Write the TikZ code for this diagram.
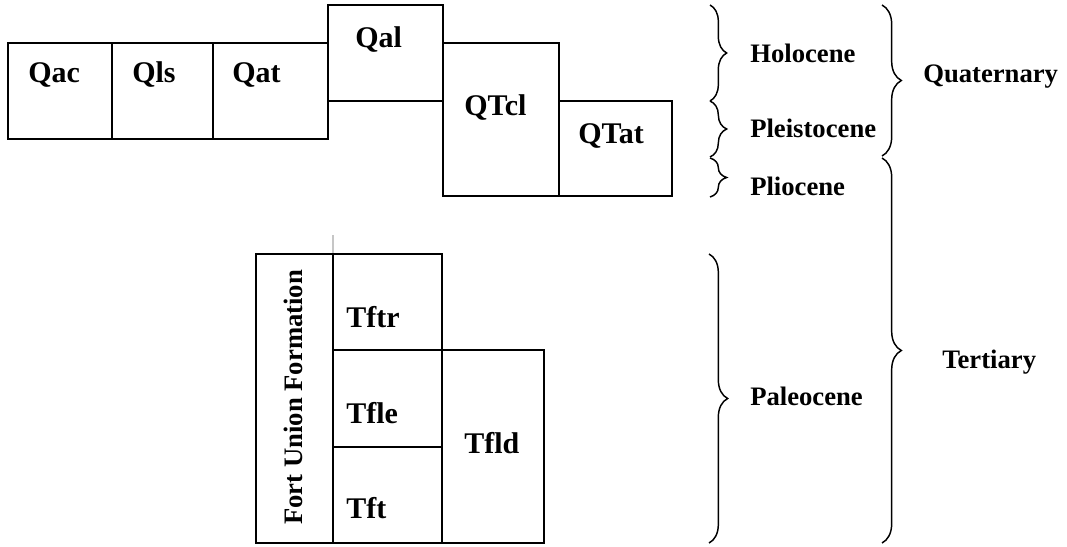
\documentclass[tikz,border=0pt]{standalone}
\usepackage{fontspec}
\setmainfont{Liberation Serif}
\usetikzlibrary{decorations.pathreplacing}
\begin{document}
\begin{tikzpicture}[x=0.75pt,y=-0.75pt,
  unitbox/.style={draw=black,line width=1.4pt},
  boxlabel/.style={anchor=base west,inner sep=0pt,font=\fontsize{22.5}{26}\selectfont\bfseries},
  agelabel/.style={anchor=base west,inner sep=0pt,font=\fontsize{20}{24}\selectfont\bfseries},
  agebrace/.style={decorate,decoration={brace,amplitude=#1},line width=1.1pt},
  agebrace/.default=12.5pt]
\useasboundingbox (0,0) rectangle (1067,546);
% top row boxes
\draw[unitbox] (8,43) rectangle (112,139);
\draw[unitbox] (112,43) rectangle (213,139);
\draw[unitbox] (213,43) rectangle (328,139);
\draw[unitbox] (328,5) rectangle (443,101);
\draw[unitbox] (443,43) rectangle (559,196);
\draw[unitbox] (559,101) rectangle (672,196);
\node[boxlabel] (qac) at (28,82) {Qac};
\node[boxlabel] (qls) at (132,82) {Qls};
\node[boxlabel] (qat) at (232,82) {Qat};
\node[boxlabel] (qal) at (355,47) {Qal};
\node[boxlabel] (qtcl) at (464,115) {QTcl};
\node[boxlabel] (qtat) at (578,143) {QTat};
% bottom group
\draw[gray!45,line width=0.8pt] (333,235) -- (333,254);
\draw[unitbox] (256,254) rectangle (333,543);
\draw[unitbox] (333,254) rectangle (442,350);
\draw[unitbox] (333,350) rectangle (442,447);
\draw[unitbox] (333,447) rectangle (442,543);
\draw[unitbox] (442,350) rectangle (544,543);
\node[agelabel,rotate=90] (fu) at (302,525) {Fort Union Formation};
\node[boxlabel] (tftr) at (346,327) {Tftr};
\node[boxlabel] (tfle) at (346,423) {Tfle};
\node[boxlabel] (tft) at (346,518) {Tft};
\node[boxlabel] (tfld) at (464,453) {Tfld};
% epoch braces
\coordinate (h1) at (710,5);
\coordinate (h2) at (710,101);
\coordinate (p1) at (710,101);
\coordinate (p2) at (710,157);
\coordinate (l1) at (710,158);
\coordinate (l2) at (710,197);
\coordinate (e1) at (709,254);
\coordinate (e2) at (709,543);
\draw[agebrace] (h1) -- (h2);
\draw[agebrace] (p1) -- (p2);
\draw[agebrace] (l1) -- (l2);
\draw[agebrace=14pt] (e1) -- (e2);
\node[agelabel] (hol) at (750,62) {Holocene};
\node[agelabel] (ple) at (750,137) {Pleistocene};
\node[agelabel] (pli) at (750,195) {Pliocene};
\node[agelabel] (pal) at (750,405) {Paleocene};
% period braces
\coordinate (q1) at (882,5);
\coordinate (q2) at (882,156);
\coordinate (t1) at (882,158);
\coordinate (t2) at (882,543);
\draw[agebrace=14.5pt] (q1) -- (q2);
\draw[agebrace=14.5pt] (t1) -- (t2);
\node[agelabel] (qua) at (923,82) {Quaternary};
\node[agelabel] (ter) at (942,368) {Tertiary};
\end{tikzpicture}
\end{document}
